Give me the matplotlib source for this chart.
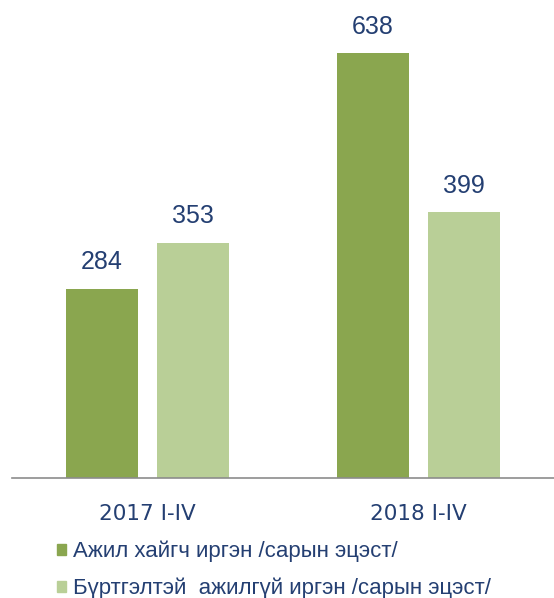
import matplotlib
matplotlib.use("Agg")
import matplotlib.pyplot as plt
import numpy as np
from matplotlib.patches import Patch

categories = ["2017 I-IV", "2018 I-IV"]
series_names = ["Ажил хайгч иргэн /сарын эцэст/",
                "Бүртгэлтэй  ажилгүй иргэн /сарын эцэст/"]
job_seekers = [284, 638]
registered_unemployed = [353, 399]

dark = "#8AA64F"
light = "#B9CF97"
navy = "#243F72"

fig = plt.figure(figsize=(5.54, 5.98), dpi=100)
ax = fig.add_axes([12/554, 120/598, 542/554, 466/598])

x = np.arange(len(categories))
w = 0.266
off = 0.168
b1 = ax.bar(x - off, job_seekers, w, color=dark)
b2 = ax.bar(x + off, registered_unemployed, w, color=light)

for bars in (b1, b2):
    for r in bars:
        ax.text(r.get_x() + r.get_width()/2, r.get_height() + 22,
                str(int(r.get_height())), ha='center', va='bottom',
                fontsize=18, color=navy, family='Liberation Sans')

ax.set_xlim(-0.5, 1.5)
ax.set_ylim(0, 700)
ax.set_yticks([])
ax.set_xticks(x)
ax.set_xticklabels(categories, fontsize=15.5, color=navy, family='DejaVu Sans')
ax.tick_params(axis='x', length=0, pad=19)
for s in ('top', 'right', 'left'):
    ax.spines[s].set_visible(False)
ax.spines['bottom'].set_color('#8C8C8C')
ax.spines['bottom'].set_linewidth(1.2)

handles = [Patch(color=dark), Patch(color=light)]
fig.legend(handles, series_names, loc='upper left',
           bbox_to_anchor=(57/554, 1 - 541/598), frameon=False,
           handlelength=0.4, handleheight=0.4, handletextpad=0.3,
           labelspacing=0.68, borderpad=0, borderaxespad=0,
           prop={'family': 'Liberation Sans', 'size': 16},
           labelcolor=navy)

fig.savefig("out.png", dpi=100)
